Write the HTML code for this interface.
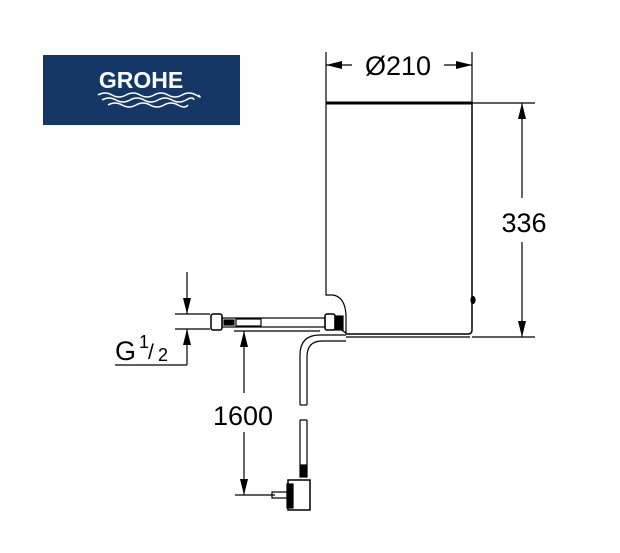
<!DOCTYPE html>
<html><head><style>body{margin:0;background:#fff}svg{display:block}</style></head><body>
<svg width="620" height="553" viewBox="0 0 620 553" xmlns="http://www.w3.org/2000/svg" font-family="Liberation Sans, sans-serif">
<defs><marker id="a" viewBox="0 0 10 10" refX="10" refY="5" markerWidth="16" markerHeight="8" orient="auto-start-reverse" markerUnits="userSpaceOnUse" preserveAspectRatio="none"><path d="M0,0L10,5L0,10z" fill="#000"/></marker></defs>
<rect x="43" y="55" width="197" height="70" fill="#143767"/>
<text x="141" y="88" text-anchor="middle" font-size="23" font-weight="bold" fill="#fff">GROHE</text>
<g fill="none" stroke="#fff" stroke-width="1.5">
<path d="M98,95 q7,-4 14,0 t14,0 t14,0 t14,0 t14,0 t14,0 t14,0 t2,0"/>
<path d="M102,100 q7,-4 14,0 t14,0 t14,0 t14,0 t14,0 t14,0 t8,0"/>
<path d="M108,105 q7,-4 14,0 t14,0 t14,0 t14,0 t14,0 t10,0"/>
</g>
<g stroke="#000" fill="none" stroke-width="1.2">
<line x1="326" y1="103" x2="472" y2="103" stroke-width="3"/>
<path d="M326,103 V295 H333 Q345,297 346,315 V334"/>
<path d="M472,103 V330 Q472,334 468,334 H346" stroke-width="1.5"/>
<line x1="346" y1="337" x2="470" y2="337"/>
<line x1="340" y1="329" x2="346" y2="333"/>
<ellipse cx="473" cy="300" rx="2" ry="3.5" fill="#000"/>
<line x1="326" y1="52" x2="326" y2="103"/>
<line x1="472" y1="52" x2="472" y2="103"/>
<line x1="326" y1="65" x2="352" y2="65" marker-start="url(#a)"/>
<line x1="444" y1="65" x2="472" y2="65" marker-end="url(#a)"/>
<line x1="472" y1="103" x2="535" y2="103"/>
<line x1="472" y1="337" x2="535" y2="337"/>
<line x1="522" y1="103" x2="522" y2="198" marker-start="url(#a)"/>
<line x1="522" y1="242" x2="522" y2="337" marker-end="url(#a)"/>
<line x1="175" y1="314" x2="210" y2="314"/>
<line x1="175" y1="329" x2="210" y2="329"/>
<line x1="187" y1="272" x2="187" y2="314" marker-end="url(#a)"/>
<line x1="187" y1="329" x2="187" y2="365" marker-start="url(#a)"/>
<line x1="115" y1="365" x2="187" y2="365"/>
<rect x="211" y="314" width="11" height="16" rx="2" stroke-width="1.5"/>
<rect x="222" y="318" width="103" height="9"/>
<rect x="224" y="320" width="10" height="5" fill="#000"/>
<rect x="236" y="319" width="25" height="7"/>
<rect x="325" y="314" width="10" height="16" rx="2" stroke-width="1.5"/>
<rect x="335" y="316" width="8" height="14" fill="#000"/>
<line x1="234" y1="331" x2="320" y2="331"/>
<line x1="244" y1="331" x2="244" y2="393" marker-start="url(#a)"/>
<line x1="244" y1="432" x2="244" y2="495" marker-end="url(#a)"/>
<line x1="235" y1="495" x2="275" y2="495"/>
<path d="M346,335 H320 Q300,335 300,355 V405" stroke-width="1.2"/>
<path d="M346,341 H322 Q307,341 307,357 V405"/>
<line x1="300" y1="405" x2="307" y2="405"/>
<path d="M300,420 V465 M307,420 V465 M300,420 H307"/>
<rect x="300" y="465" width="7" height="12" fill="#000"/>
<rect x="288" y="480" width="22" height="30" stroke-width="1.5"/>
<rect x="287" y="484" width="6" height="24" fill="#000"/>
<rect x="272" y="492" width="15" height="6"/>
</g>
<g font-size="27" fill="#000">
<text x="398" y="75" text-anchor="middle">Ø210</text>
<text x="524" y="232" text-anchor="middle">336</text>
<text x="243" y="425" text-anchor="middle">1600</text>
<text x="115" y="360">G</text>
<text x="139" y="348" font-size="18">1</text>
<text x="148" y="359" font-size="21">/</text>
<text x="158" y="361" font-size="18">2</text>
</g>
</svg>
</body></html>
